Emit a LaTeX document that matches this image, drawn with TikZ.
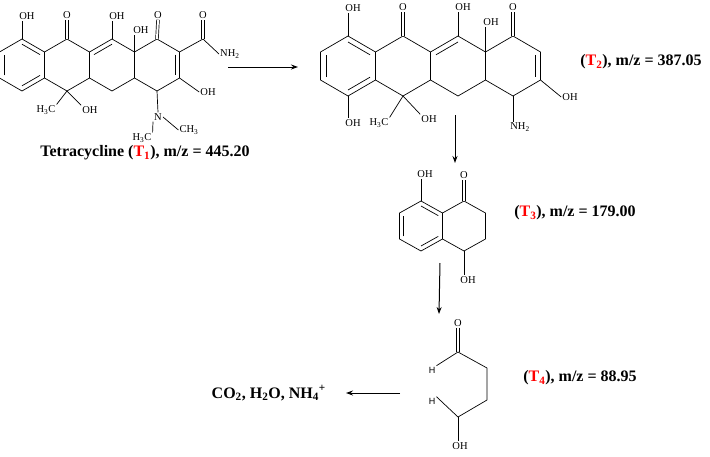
\documentclass[tikz,border=0pt]{standalone}
\usepackage{fontspec}
\setmainfont{Liberation Serif}
\newfontfamily\sansf{Liberation Sans}
\usetikzlibrary{arrows.meta,calc}
\newcommand{\defring}[6]{%
 \coordinate (#1) at (#2,#3);
 \coordinate (#1-t) at (#2,#3-#6);
 \coordinate (#1-ur) at (#2+#4,#3-#5);
 \coordinate (#1-lr) at (#2+#4,#3+#5);
 \coordinate (#1-b) at (#2,#3+#6);
 \coordinate (#1-ll) at (#2-#4,#3+#5);
 \coordinate (#1-ul) at (#2-#4,#3-#5);
 \draw[bond] (#1-t)--(#1-ur)--(#1-lr)--(#1-b)--(#1-ll)--(#1-ul)--cycle;}
\newcommand{\inner}[3]{\draw[bond] ($(#1)!0.2!(#3)$)--($(#2)!0.2!(#3)$);}
\newcommand{\sub}[1]{\textsubscript{#1}}
\begin{document}
\begin{tikzpicture}[x=1pt,y=-1pt,
 bond/.style={line width=0.7pt,line join=round},
 dbond/.style={line width=0.7pt,double,double distance=2pt},
 atom/.style={inner sep=1pt,font=\fontsize{10.5}{10.5}\selectfont},
 hatom/.style={inner sep=1pt,font=\sansf\fontsize{9}{9}\selectfont},
 lab/.style={inner sep=0pt,font=\bfseries\fontsize{16}{16}\selectfont},
 arr/.style={line width=1pt,-{Stealth[length=7pt,width=5pt]}}]
\useasboundingbox (0,0) rectangle (710,456);
% ---------- T1 ----------
\defring{a1}{22}{65}{22.5}{13}{26}
\defring{b1}{67}{65}{22.5}{13}{26}
\defring{c1}{112}{65}{22.5}{13}{26}
\defring{d1}{157}{65}{22.5}{13}{26}
\inner{a1-t}{a1-ur}{a1}\inner{a1-lr}{a1-b}{a1}\inner{a1-ll}{a1-ul}{a1}
\inner{c1-ul}{c1-t}{c1}\inner{d1-ur}{d1-lr}{d1}
\node[atom] (t1oh1) at (27,16) {OH};
\draw[bond] (a1-t)--(a1-t|-t1oh1.south);
\node[atom] (t1o1) at (67,15) {O};
\draw[dbond] (b1-t)--(t1o1.south);
\node[atom] (t1oh2) at (117,16) {OH};
\draw[bond] (c1-t)--(c1-t|-t1oh2.south);
\node[atom] (t1oh3) at (141,30) {OH};
\draw[bond] (c1-ur)--(c1-ur|-t1oh3.south);
\node[atom] (t1o2) at (158,15) {O};
\draw[dbond] (d1-t)--(t1o2.south);
\coordinate (t1c) at (203,39);
\draw[bond] (d1-ur)--(t1c);
\node[atom] (t1o3) at (203,15) {O};
\draw[dbond] (t1c)--(t1o3.south);
\node[atom,anchor=west] (t1n2) at (219,54) {NH\sub{2}};
\draw[bond] (t1c)--(t1n2.west);
\node[atom] (t1oh4) at (208,92) {OH};
\draw[bond] (d1-lr)--(t1oh4.west);
\node[atom] (t1n) at (158,117) {N};
\draw[bond] (d1-b)--(t1n.north);
\node[atom] (t1me1) at (142,138) {H\sub{3}C};
\node[atom] (t1me2) at (189,130) {CH\sub{3}};
\draw[bond] (t1n.south west)--(t1me1.north east);
\draw[bond] (t1n.east)--(t1me2.west);
\node[atom] (t1me3) at (46,110) {H\sub{3}C};
\node[atom] (t1oh5) at (90,110) {OH};
\draw[bond] (b1-b)--(t1me3.north east);
\draw[bond] (b1-b)--(t1oh5.north west);
\node[lab] (t1lab) at (145,153) {Tetracycline (\textcolor{red}{T\sub{1}}), m/z = 445.20};
\coordinate (ar1s) at (228,67); \coordinate (ar1e) at (298,67);
\draw[arr] (ar1s)--(ar1e);
% ---------- T2 ----------
\defring{a2}{348}{66}{27.5}{14}{30}
\defring{b2}{403}{66}{27.5}{14}{30}
\defring{c2}{458}{66}{27.5}{14}{30}
\defring{d2}{513}{66}{27.5}{14}{30}
\inner{a2-t}{a2-ur}{a2}\inner{a2-lr}{a2-b}{a2}\inner{a2-ll}{a2-ul}{a2}
\inner{c2-ul}{c2-t}{c2}\inner{d2-ur}{d2-lr}{d2}
\node[atom] (t2oh1) at (353,8) {OH};
\draw[bond] (a2-t)--(a2-t|-t2oh1.south);
\node[atom] (t2oh2) at (353,123) {OH};
\draw[bond] (a2-b)--(a2-b|-t2oh2.north);
\node[atom] (t2o1) at (403,7) {O};
\draw[dbond] (b2-t)--(t2o1.south);
\node[atom] (t2me) at (379,123) {H\sub{3}C};
\node[atom] (t2oh3) at (429,119) {OH};
\draw[bond] (b2-b)--(t2me.north east);
\draw[bond] (b2-b)--(t2oh3.north west);
\node[atom] (t2oh4) at (463,7) {OH};
\draw[bond] (c2-t)--(c2-t|-t2oh4.south);
\node[atom] (t2oh5) at (491,22) {OH};
\draw[bond] (c2-ur)--(c2-ur|-t2oh5.south);
\node[atom] (t2o2) at (513,7) {O};
\draw[dbond] (d2-t)--(t2o2.south);
\node[atom] (t2oh6) at (570,97) {OH};
\draw[bond] (d2-lr)--(t2oh6.west);
\node[atom] (t2n) at (520,127) {NH\sub{2}};
\draw[bond] (d2-b)--(d2-b|-t2n.north);
\node[lab] (t2lab) at (641,62) {(\textcolor{red}{T\sub{2}}), m/z = 387.05};
\coordinate (ar2s) at (455,115); \coordinate (ar2e) at (455,163);
\draw[arr] (ar2s)--(ar2e);
% ---------- T3 ----------
\defring{a3}{421}{226}{21.5}{13}{25}
\defring{b3}{464}{226}{21.5}{13}{25}
\inner{a3-t}{a3-ur}{a3}\inner{a3-lr}{a3-b}{a3}\inner{a3-ll}{a3-ul}{a3}
\node[atom] (t3oh1) at (425,174) {OH};
\draw[bond] (a3-t)--(a3-t|-t3oh1.south);
\node[atom] (t3o) at (464,175) {O};
\draw[dbond] (b3-t)--(t3o.south);
\node[atom] (t3oh2) at (468,280) {OH};
\draw[bond] (b3-b)--(b3-b|-t3oh2.north);
\node[lab] (t3lab) at (575,213) {(\textcolor{red}{T\sub{3}}), m/z = 179.00};
\coordinate (ar3s) at (440,263); \coordinate (ar3e) at (439,314);
\draw[arr] (ar3s)--(ar3e);
% ---------- T4 ----------
\node[atom] (t4o) at (458,323) {O};
\coordinate (t4c1) at (458,352);
\coordinate (t4c2) at (487,368);
\coordinate (t4c3) at (487,400);
\coordinate (t4c4) at (458,417);
\node[hatom] (t4h1) at (432,370) {H};
\node[hatom] (t4h2) at (432,401) {H};
\node[atom] (t4oh) at (460,446) {OH};
\draw[dbond] (t4o.south)--(t4c1);
\draw[bond] (t4h1.north east)--(t4c1)--(t4c2)--(t4c3)--(t4c4)--(t4h2.north east);
\draw[bond] (t4c4)--(t4c4|-t4oh.north);
\node[lab] (t4lab) at (580,378) {(\textcolor{red}{T\sub{4}}), m/z = 88.95};
\coordinate (ar4s) at (400,393); \coordinate (ar4e) at (346,393);
\draw[arr] (ar4s)--(ar4e);
\node[lab,anchor=east] (prod) at (326,393) {CO\sub{2}, H\sub{2}O, NH\sub{4}\textsuperscript{+}};
\end{tikzpicture}
\end{document}
